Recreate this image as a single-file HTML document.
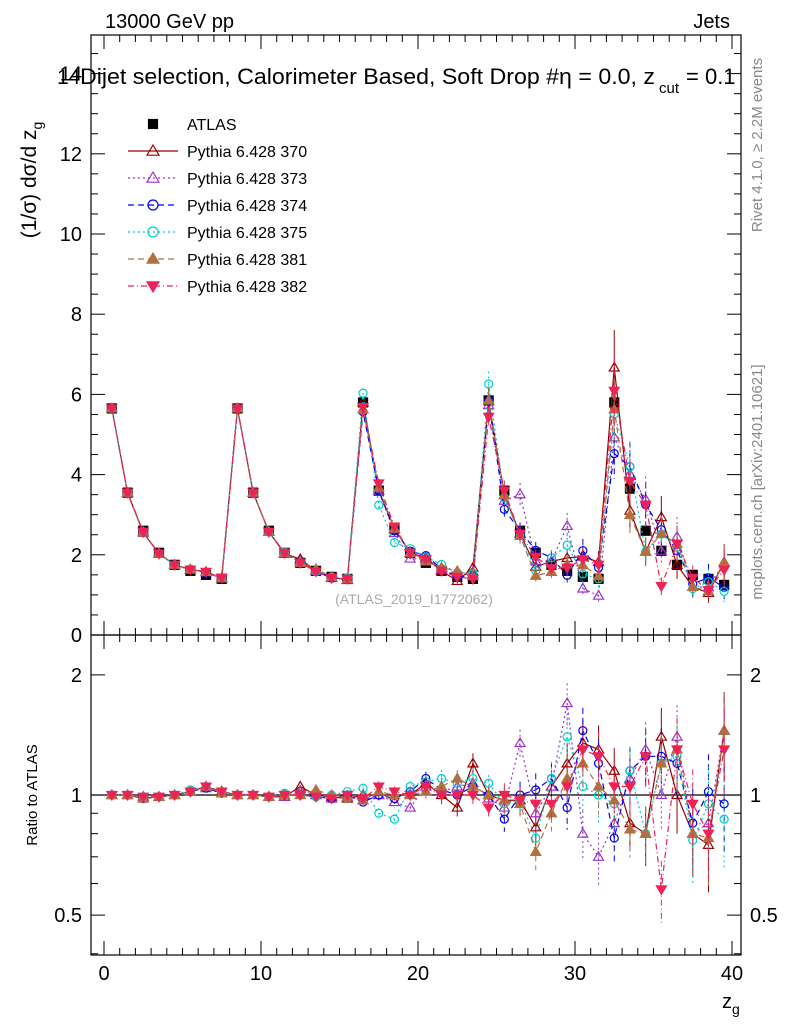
<!DOCTYPE html>
<html><head><meta charset="utf-8">
<style>
body{margin:0;background:#fff;}
svg{display:block;font-family:"Liberation Sans",sans-serif;}
</style></head>
<body>
<svg id="chart" width="786" height="1024">
<text x="105" y="28" font-size="20">13000 GeV pp</text>
<text x="730" y="28" font-size="20" text-anchor="end">Jets</text>
<text x="57" y="84" font-size="21">14</text>
<text x="80" y="84" font-size="22" textLength="575" lengthAdjust="spacingAndGlyphs">Dijet selection, Calorimeter Based, Soft Drop #η = 0.0, z</text>
<text x="659" y="93" font-size="15">cut</text>
<text x="686" y="84" font-size="22"> = 0.1</text>
<text transform="translate(36,180) rotate(-90)" font-size="21" text-anchor="middle">(1/σ) dσ/d z<tspan font-size="14" dy="6">g</tspan></text>
<text transform="translate(37,795) rotate(-90)" font-size="15" text-anchor="middle">Ratio to ATLAS</text>
<text x="722" y="1008" font-size="20">z<tspan font-size="14" dy="6">g</tspan></text>
<text transform="translate(762,145) rotate(-90)" font-size="15" fill="#888" text-anchor="middle">Rivet 4.1.0, ≥ 2.2M events</text>
<text transform="translate(762,482) rotate(-90)" font-size="15" fill="#888" text-anchor="middle">mcplots.cern.ch [arXiv:2401.10621]</text>
<text x="414" y="604" font-size="14" fill="#aaa" text-anchor="middle">(ATLAS_2019_I1772062)</text>
<g id="g"></g>
</svg>
<script>
const xs=[0.5,1.5,2.5,3.5,4.5,5.5,6.5,7.5,8.5,9.5,10.5,11.5,12.5,13.5,14.5,15.5,16.5,17.5,18.5,19.5,20.5,21.5,22.5,23.5,24.5,25.5,26.5,27.5,28.5,29.5,30.5,31.5,32.5,33.5,34.5,35.5,36.5,37.5,38.5,39.5];
const atlas=[5.65,3.55,2.6,2.05,1.75,1.6,1.5,1.4,5.65,3.55,2.6,2.05,1.8,1.6,1.45,1.4,5.8,3.6,2.65,2.05,1.8,1.6,1.45,1.4,5.85,3.6,2.6,2.05,1.75,1.6,1.45,1.4,5.8,3.65,2.6,2.1,1.75,1.5,1.4,1.25];
const mcErr=[0.01,0.01,0.01,0.01,0.01,0.01,0.01,0.01,0.01,0.01,0.01,0.01,0.01,0.01,0.01,0.01,0.02,0.03,0.03,0.03,0.04,0.05,0.05,0.06,0.05,0.07,0.08,0.1,0.1,0.12,0.14,0.15,0.14,0.15,0.17,0.18,0.2,0.22,0.24,0.25];
const r370=[1,1,0.98,0.99,1,1.02,1.05,1.02,1,1,0.99,0.99,1.05,1,0.99,0.98,1,1,1,1,1.07,1,0.93,1.2,1,0.97,0.97,0.83,1.05,1.2,1.35,1.3,1.15,0.85,0.8,1.4,1,0.8,0.75,1.45];
const r373=[1,1,0.99,0.99,1,1.02,1.04,1.01,1,1,0.99,0.99,1.02,1,0.98,0.99,0.97,1,0.96,0.93,1.05,1.02,1.05,1.07,0.98,0.93,1.35,0.9,1.05,1.7,0.8,0.7,0.85,1.1,1.3,1.0,1.4,0.8,0.85,1.45];
const r374=[1,1,0.98,0.99,1,1.02,1.04,1.01,1,1,0.99,1,1,0.99,0.98,1,0.96,1,0.98,1.02,1.1,1.03,1.0,1.05,1.0,0.87,1.0,1.03,1.1,0.93,1.45,1.2,0.78,1.15,1.25,1.25,1.2,0.85,1.02,0.95];
const r375=[1,1,0.99,0.99,1,1.03,1.05,1.02,1,1,0.99,1.01,1,0.99,1.0,1.02,1.04,0.9,0.87,1.05,1.08,1.1,1.07,1.1,1.07,0.95,0.97,0.78,1.1,1.4,1.05,1.0,0.95,1.15,0.8,1.2,1.25,0.77,0.95,0.87];
const r381=[1,1,0.98,0.99,1,1.02,1.05,1.01,1,1,0.99,1,1,1.03,1,0.99,0.97,1.02,1,1,1.02,1.05,1.1,1.05,1.0,0.97,0.95,0.72,0.9,1.1,1.2,1.05,0.97,0.82,0.8,1.2,1.3,0.8,0.78,1.45];
const r382=[1,1,0.99,0.99,1,1.02,1.05,1.02,1,1,0.99,1,1,0.99,0.98,1,0.98,1.05,1.02,1.0,1.05,1.0,1.0,1.0,0.93,1.0,0.97,0.95,0.95,1.05,1.3,1.25,1.05,1.05,1.25,0.58,1.3,0.95,0.8,1.3];
const seriesNames=["Pythia 6.428 370","Pythia 6.428 373","Pythia 6.428 374","Pythia 6.428 375","Pythia 6.428 381","Pythia 6.428 382"];
const xTicks=[0,10,20,30,40];
const yTicks=[0,2,4,6,8,10,12,14];
const rTicks=[0.5,1,2];

const NS="http://www.w3.org/2000/svg";
const G=document.getElementById('g');
function el(t,a,p){const e=document.createElementNS(NS,t);for(const k in a)e.setAttribute(k,a[k]);(p||G).appendChild(e);return e;}
const L=91,R=741,T1=35,B1=635,T2=635,B2=955;
const X=v=>104+v*15.7;
const Y=v=>635-v*40.1;
const RY=v=>795-Math.log10(v)*399;
const styles=[
 {c:"#990000",d:"",m:"tri",f:false},
 {c:"#9933cc",d:"2,3",m:"tri",f:false},
 {c:"#0000ee",d:"6,4",m:"circ",f:false},
 {c:"#00cccc",d:"2,3",m:"circ",f:false},
 {c:"#b07040",d:"6,4",m:"tri",f:true},
 {c:"#ee2255",d:"6,3,1,3",m:"tdown",f:true}];
const ratios=[r370,r373,r374,r375,r381,r382];

function marker(m,x,y,c,f,s,p){
  s=s||6;let e;
  if(m=="tri")e=el('path',{d:`M${x},${y-s}L${x+s},${y+s*0.7}L${x-s},${y+s*0.7}Z`},p);
  else if(m=="tdown")e=el('path',{d:`M${x},${y+s}L${x+s},${y-s*0.7}L${x-s},${y-s*0.7}Z`},p);
  else if(m=="circ")e=el('circle',{cx:x,cy:y,r:s-1},p);
  else e=el('rect',{x:x-4.5,y:y-4.5,width:9,height:9},p);
  e.setAttribute('fill',f?c:'none');e.setAttribute('stroke',c);e.setAttribute('stroke-width',1.2);
  return e;
}
const f1=el('rect',{x:L,y:T1,width:R-L,height:B1-T1,fill:'none',stroke:'#000','stroke-width':1.2});

const f2=el('rect',{x:L,y:T2,width:R-L,height:B2-T2,fill:'none',stroke:'#000','stroke-width':1.2});

for(let v=0;v<=40;v++){const maj=v%10==0;const len=maj?14:7;const x=X(v);
 [[T1,1],[B1,-1],[T2,1],[B2,-1]].forEach(([y,s])=>el('line',{x1:x,x2:x,y1:y,y2:y+s*len,stroke:'#000'}));}
xTicks.forEach(v=>{const t=el('text',{x:X(v),y:980,'font-size':20,'text-anchor':'middle'});t.textContent=v;
 });
for(let v=0;v<=14.9;v+=0.5){const maj=Math.abs(v%2)<1e-6;const len=maj?14:7;const y=Y(v);
 el('line',{x1:L,x2:L+len,y1:y,y2:y,stroke:'#000'});el('line',{x1:R,x2:R-len,y1:y,y2:y,stroke:'#000'});}
yTicks.forEach(v=>{const t=el('text',{x:82,y:Y(v)+7,'font-size':20,'text-anchor':'end'});t.textContent=v;
 });
[0.4,0.5,0.6,0.7,0.8,0.9,1,2].forEach(v=>{const maj=rTicks.includes(v);const len=maj?14:7;const y=RY(v);
 el('line',{x1:L,x2:L+len,y1:y,y2:y,stroke:'#000'});el('line',{x1:R,x2:R-len,y1:y,y2:y,stroke:'#000'});});
rTicks.forEach(v=>{const y=RY(v)+7;
 let t=el('text',{x:82,y:y,'font-size':20,'text-anchor':'end'});t.textContent=v;
 
 t=el('text',{x:750,y:y,'font-size':20});t.textContent=v;
 });
const ref=el('line',{x1:L,x2:R,y1:RY(1),y2:RY(1),stroke:'#000','stroke-width':1.2});

xs.forEach((x,i)=>{const m=marker('sq',X(x),Y(atlas[i]),'#000',true);
 });
ratios.forEach((rr,si)=>{const st=styles[si];
 const gm=el('g',{});
 let pm='',pr='';
 xs.forEach((x,i)=>{const v=atlas[i]*rr[i];pm+=(i?'L':'M')+X(x)+','+Y(v);pr+=(i?'L':'M')+X(x)+','+RY(rr[i]);});
 el('path',{d:pm,fill:'none',stroke:st.c,'stroke-dasharray':st.d,'stroke-width':1.2},gm);
 el('path',{d:pr,fill:'none',stroke:st.c,'stroke-dasharray':st.d,'stroke-width':1.2},gm);
 xs.forEach((x,i)=>{const v=atlas[i]*rr[i],e=mcErr[i];
  el('line',{x1:X(x),x2:X(x),y1:Y(v*(1+e)),y2:Y(v*(1-e)),stroke:st.c,'stroke-dasharray':st.d},gm);
  el('line',{x1:X(x),x2:X(x),y1:RY(rr[i]*(1+e)),y2:RY(rr[i]*(1-e)),stroke:st.c,'stroke-dasharray':st.d},gm);
  marker(st.m,X(x),Y(v),st.c,st.f,5,gm);
  marker(st.m,X(x),RY(rr[i]),st.c,st.f,5,gm);
 });
});
const lg=el('g',{});
let ly=124;
marker('sq',153,ly,'#000',true,6,lg);
let t=el('text',{x:187,y:ly+6,'font-size':16},lg);t.textContent='ATLAS';
seriesNames.forEach((n,si)=>{const st=styles[si];ly+=27;
 el('line',{x1:128,x2:178,y1:ly,y2:ly,stroke:st.c,'stroke-dasharray':st.d,'stroke-width':1.2},lg);
 marker(st.m,153,ly,st.c,st.f,6,lg);
 const tt=el('text',{x:187,y:ly+6,'font-size':16},lg);tt.textContent=n;
 });
</script>
</body></html>
